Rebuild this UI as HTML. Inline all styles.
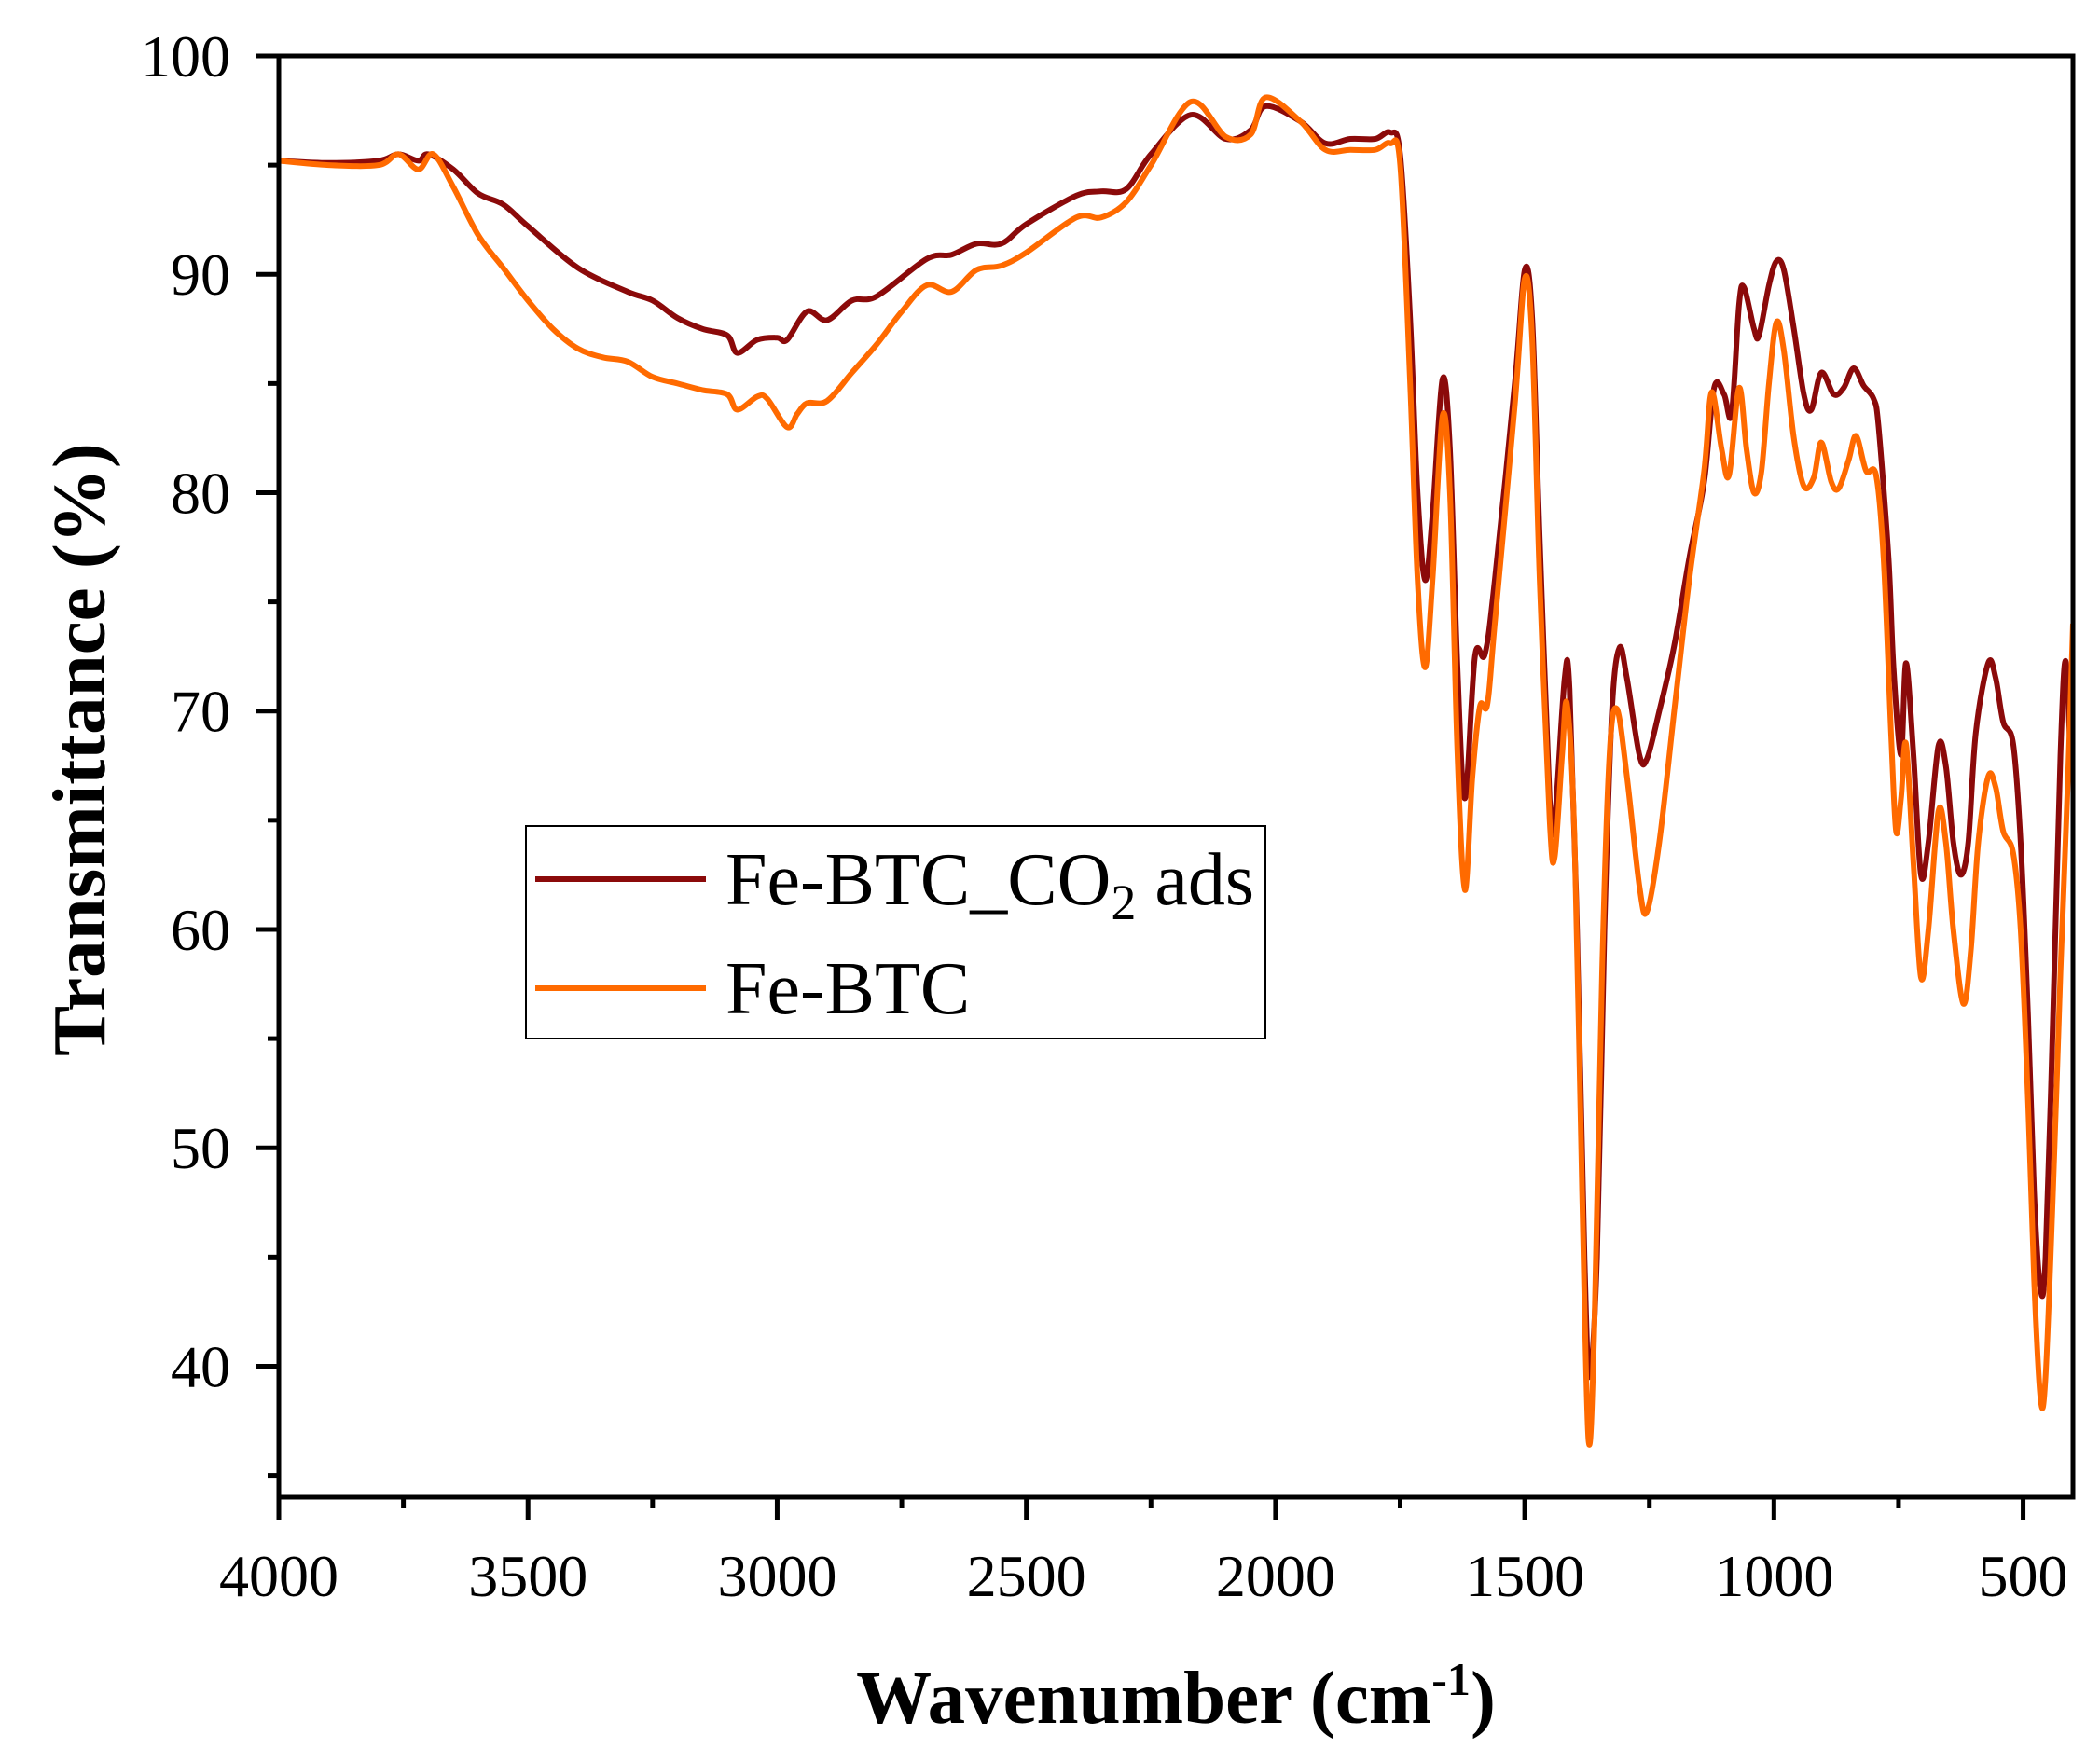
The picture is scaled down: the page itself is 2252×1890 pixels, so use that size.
<!DOCTYPE html>
<html><head><meta charset="utf-8">
<style>
html,body{margin:0;padding:0;background:#fff;}
svg{display:block;font-family:"Liberation Serif",serif;}
</style></head>
<body>
<svg id="chart" width="2252" height="1890" viewBox="0 0 2252 1890" xmlns="http://www.w3.org/2000/svg">
<g id="plot"></g>
</svg>
<script>
const xTicks=[4000,3500,3000,2500,2000,1500,1000,500];
const xMinor=[3750,3250,2750,2250,1750,1250,750];
const yTicks=[40,50,60,70,80,90,100];
const yMinor=[35,45,55,65,75,85,95];
const seriesNames=["Fe-BTC_CO2 ads","Fe-BTC"];
const wnCO2=[4000,3900,3800,3760,3720,3700,3650,3600,3550,3500,3400,3300,3250,3200,3150,3100,3080,3040,3000,2980,2940,2900,2850,2800,2700,2650,2600,2550,2500,2400,2350,2300,2250,2170,2100,2050,2020,1950,1900,1850,1800,1770,1750,1730,1715,1700,1685,1665,1650,1635,1620,1600,1580,1560,1520,1500,1485,1470,1450,1440,1420,1410,1395,1380,1370,1355,1340,1325,1310,1295,1270,1255,1230,1200,1170,1140,1120,1100,1085,1070,1060,1040,1030,1010,995,980,960,940,925,905,880,860,840,820,800,790,770,760,745,735,720,705,690,670,655,640,625,610,595,570,555,540,520,505,490,478,465,455,440,425,415,405];
const tCO2=[95.2,95.1,95.2,95.5,95.2,95.5,94.8,93.7,93.2,92.2,90.3,89.2,88.8,88.0,87.5,87.2,86.4,87.0,87.1,87.0,88.3,87.9,88.8,89.0,90.7,90.9,91.4,91.4,92.3,93.6,93.8,93.9,95.5,97.3,96.2,96.6,97.7,97.0,96.0,96.2,96.2,96.5,95.5,88,80,76.0,79,85.2,82,72,66,72.5,72.6,76,85,90.2,88,78,66,65,71.5,71,60,45,39.5,45,60,70,72.9,71.5,68,67.8,70,73,77,80.5,84.8,84.5,83.6,88.6,89.4,87.5,87.2,89.5,90.6,90.2,87.5,84.5,83.8,85.5,84.5,84.8,85.7,84.9,84.3,83,77,72,68,72.2,68,62.5,64,68.4,67.5,64,62.5,64,69,72.2,71.5,69.5,68.5,64,56,48,43.5,45,56,68,72.3,68];
const wnFe=[4000,3900,3800,3760,3720,3690,3650,3600,3550,3500,3450,3400,3350,3300,3250,3200,3150,3100,3080,3040,3020,2980,2960,2940,2900,2850,2800,2750,2700,2650,2600,2550,2500,2400,2350,2300,2250,2170,2100,2050,2020,1950,1900,1850,1800,1770,1750,1730,1715,1700,1685,1665,1650,1635,1620,1605,1590,1575,1560,1520,1500,1485,1470,1450,1440,1425,1415,1400,1385,1372,1360,1345,1330,1315,1295,1270,1255,1230,1200,1170,1140,1125,1105,1090,1070,1055,1040,1025,1010,995,980,960,940,920,905,885,870,850,835,815,795,780,765,755,745,735,720,705,690,670,655,640,620,605,590,570,555,540,520,505,490,478,465,455,440,425,410,400];
const tFe=[95.2,95.0,95.0,95.5,94.8,95.5,94.0,91.8,90.3,88.8,87.5,86.6,86.2,86.0,85.3,85.0,84.7,84.5,83.8,84.4,84.3,83.0,83.6,84.1,84.2,85.5,86.8,88.3,89.5,89.2,90.2,90.4,91.0,92.6,92.6,93.3,95.0,97.9,96.3,96.4,98.1,97.0,95.7,95.7,95.7,96.0,95.0,85,76,72.0,76,83.5,80,68,61.8,67,70.2,70.3,74,84,89.8,87,76,65,63.3,68,70.3,64,48,36.6,42,58,68,70.1,67,62,60.8,64,70,76,81,84.6,82,80.8,84.8,82,80,81,85,87.8,86.5,82.5,80.3,80.7,82.3,80.5,80.2,81.5,82.6,81.0,80.8,77,69,64.5,66,68.5,63,57.8,60,65.4,64,60,56.6,59,64,67,66.5,64.5,63.5,60,52,44,38.5,39.5,48,58,67,74];

const L=299,R=2223,T=60,B=1606;
const X0=4000,X1=400,Y0=34,Y1=100;
function sx(v){return L+(X0-v)/(X0-X1)*(R-L);}
function sy(v){return B-(v-Y0)/(Y1-Y0)*(B-T);}
const NS="http://www.w3.org/2000/svg";
const g=document.getElementById('plot');
function mk(tag,attrs,parent){const e=document.createElementNS(NS,tag);for(const k in attrs)e.setAttribute(k,attrs[k]);(parent||g).appendChild(e);return e;}
function pathFor(xs,ys){
  const p=xs.map((x,i)=>[sx(x),sy(ys[i])]);
  let d="M"+p[0][0].toFixed(1)+","+p[0][1].toFixed(1);
  for(let i=0;i<p.length-1;i++){
    const p0=p[Math.max(0,i-1)],p1=p[i],p2=p[i+1],p3=p[Math.min(p.length-1,i+2)];
    const c1x=p1[0]+(p2[0]-p0[0])/6,c1y=p1[1]+(p2[1]-p0[1])/6;
    const c2x=p2[0]-(p3[0]-p1[0])/6,c2y=p2[1]-(p3[1]-p1[1])/6;
    d+=" C"+c1x.toFixed(1)+","+c1y.toFixed(1)+" "+c2x.toFixed(1)+","+c2y.toFixed(1)+" "+p2[0].toFixed(1)+","+p2[1].toFixed(1);
  }
  return d;
}
const defs=mk('defs',{});
const cp=mk('clipPath',{id:'clip'},defs);
mk('rect',{x:L,y:T,width:R-L,height:B-T},cp);
const lines=mk('g',{'clip-path':'url(#clip)'});


const sCO=mk('path',{d:pathFor(wnCO2,tCO2),fill:'none',stroke:'#8b0a0a','stroke-width':6,'stroke-linejoin':'round'},lines);


const sFe=mk('path',{d:pathFor(wnFe,tFe),fill:'none',stroke:'#ff6a00','stroke-width':6,'stroke-linejoin':'round'},lines);


const frame=mk('rect',{x:L,y:T,width:R-L,height:B-T,fill:'none',stroke:'#000','stroke-width':5});


xTicks.forEach(v=>{
  const t=mk('line',{x1:sx(v),x2:sx(v),y1:B,y2:B+24,stroke:'#000','stroke-width':5});
  
  
  const tx=mk('text',{x:sx(v),y:1712,'text-anchor':'middle','font-size':64});
  tx.textContent=v;
  
  
});
xMinor.forEach(v=>{
  const t=mk('line',{x1:sx(v),x2:sx(v),y1:B,y2:B+12,stroke:'#000','stroke-width':5});
  
  
});
yTicks.forEach(v=>{
  const t=mk('line',{x1:L-24,x2:L,y1:sy(v),y2:sy(v),stroke:'#000','stroke-width':5});
  
  
  const tx=mk('text',{x:247,y:sy(v)+22,'text-anchor':'end','font-size':64});
  tx.textContent=v;
  
  
});
yMinor.forEach(v=>{
  const t=mk('line',{x1:L-12,x2:L,y1:sy(v),y2:sy(v),stroke:'#000','stroke-width':5});
  
  
});
const xt=mk('text',{x:1261,y:1848,'text-anchor':'middle','font-size':81,'font-weight':'bold'});
xt.innerHTML='Wavenumber (cm<tspan dy="-30" font-size="50">-1</tspan><tspan dy="30">)</tspan>';


const yt=mk('text',{x:0,y:0,'text-anchor':'middle','font-size':81,'font-weight':'bold',transform:'translate(112,804) rotate(-90)'});
yt.textContent='Transmittance (%)';


const lg=mk('g',{});


mk('rect',{x:564,y:886,width:793,height:228,fill:'#fff',stroke:'#000','stroke-width':2},lg);
const colors=['#8b0a0a','#ff6a00'];
const ly=[943,1060];
seriesNames.forEach((n,i)=>{
  const e=mk('g',{},lg);
  
  
  mk('line',{x1:574,x2:757,y1:ly[i],y2:ly[i],stroke:colors[i],'stroke-width':6},e);
  const t=mk('text',{x:778,y:ly[i]+27,'font-size':80},e);
  if(i===0){t.innerHTML='Fe-BTC_CO<tspan dy="16" font-size="54">2</tspan><tspan dy="-16"> ads</tspan>';}
  else t.textContent=n;
});
</script>
</body></html>
